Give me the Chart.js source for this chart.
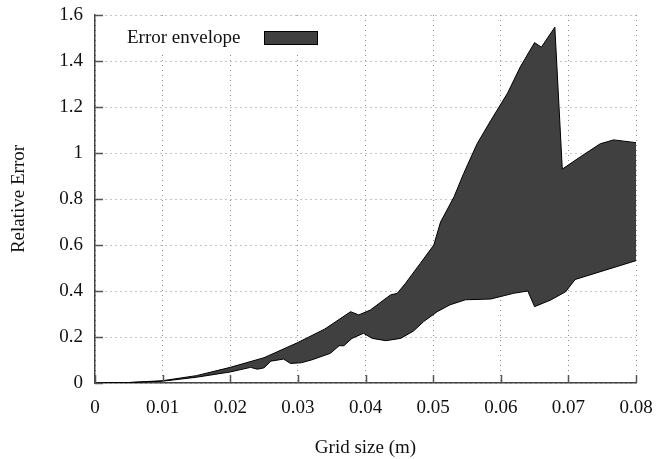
<!DOCTYPE html>
<html lang="en">
<head>
    <meta charset="UTF-8">
    <title>Relative error envelope vs grid size</title>
    <script src="https://cdn.jsdelivr.net/npm/chart.js"></script>
    <style>
        body { margin: 0; background: #fff; }
        #wrap { width: 658px; height: 459px; }
    </style>
</head>
<body>
    <div id="wrap"><canvas id="envChart" width="658" height="459"></canvas></div>

    <script>
        // Envelope edges (grid size in m, relative error)
        const lowerX = [0, 0.005, 0.01, 0.015, 0.02, 0.023, 0.024, 0.025, 0.026, 0.0279, 0.0289, 0.0305, 0.032, 0.0348, 0.0361, 0.0368, 0.038, 0.0397, 0.041, 0.043, 0.0452, 0.0471, 0.0486, 0.0506, 0.0525, 0.0548, 0.0585, 0.0619, 0.064, 0.065, 0.0674, 0.0696, 0.071, 0.08];
        const lowerY = [0, 0.002, 0.008, 0.025, 0.048, 0.068, 0.06, 0.066, 0.095, 0.104, 0.085, 0.088, 0.10, 0.129, 0.162, 0.162, 0.194, 0.216, 0.194, 0.184, 0.194, 0.226, 0.267, 0.31, 0.34, 0.362, 0.365, 0.39, 0.40, 0.332, 0.361, 0.397, 0.45, 0.532];

        const upperX = [0, 0.005, 0.01, 0.015, 0.02, 0.025, 0.03, 0.034, 0.0378, 0.039, 0.0407, 0.0437, 0.0447, 0.0459, 0.0481, 0.0501, 0.0511, 0.0531, 0.0545, 0.0565, 0.0585, 0.061, 0.0629, 0.065, 0.066, 0.068, 0.0691, 0.0718, 0.0747, 0.0767, 0.08];
        const upperY = [0, 0.002, 0.01, 0.032, 0.068, 0.11, 0.176, 0.235, 0.31, 0.296, 0.317, 0.383, 0.39, 0.433, 0.52, 0.60, 0.70, 0.81, 0.91, 1.04, 1.14, 1.26, 1.375, 1.48, 1.46, 1.547, 0.93, 0.984, 1.04, 1.057, 1.045];

        const xTicks = [0, 0.01, 0.02, 0.03, 0.04, 0.05, 0.06, 0.07, 0.08];
        const yTicks = [0, 0.2, 0.4, 0.6, 0.8, 1, 1.2, 1.4, 1.6];

        const fillColor = '#404040';
        const serif = "'Liberation Serif', 'Times New Roman', serif";

        function toPoints(xs, ys) {
            return xs.map((x, i) => ({ x: x, y: ys[i] }));
        }

        // gnuplot-style inward tick marks
        const inwardTicks = {
            id: 'inwardTicks',
            afterDraw(chart) {
                const { ctx, chartArea, scales } = chart;
                ctx.save();
                ctx.strokeStyle = '#555';
                ctx.lineWidth = 1.5;
                ctx.beginPath();
                xTicks.forEach(v => {
                    const px = Math.round(scales.x.getPixelForValue(v)) + 0.5;
                    ctx.moveTo(px, chartArea.bottom);
                    ctx.lineTo(px, chartArea.bottom - 8);
                });
                yTicks.forEach(v => {
                    const py = Math.round(scales.y.getPixelForValue(v)) + 0.5;
                    ctx.moveTo(chartArea.left, py);
                    ctx.lineTo(chartArea.left + 8, py);
                });
                ctx.stroke();
                ctx.restore();
            }
        };

        // legend inside the plot: label text, then the sample box
        const boxLegend = {
            id: 'boxLegend',
            beforeDatasetsDraw(chart) {
                const ctx = chart.ctx;
                ctx.save();
                ctx.fillStyle = '#fff';
                ctx.fillRect(118, 18, 210, 34);
                ctx.restore();
            },
            afterDatasetsDraw(chart) {
                const ctx = chart.ctx;
                const ds = chart.data.datasets[1];
                ctx.save();
                ctx.font = '19px ' + serif;
                ctx.fillStyle = '#111';
                ctx.textBaseline = 'middle';
                ctx.textAlign = 'left';
                ctx.fillText(ds.label, 127, 38);
                ctx.fillStyle = ds.backgroundColor;
                ctx.fillRect(264, 31, 53, 13);
                ctx.strokeStyle = '#000';
                ctx.lineWidth = 1;
                ctx.strokeRect(264.5, 31.5, 53, 13);
                ctx.restore();
            }
        };

        new Chart(document.getElementById('envChart'), {
            type: 'line',
            data: {
                datasets: [
                    {
                        label: 'lower',
                        data: toPoints(lowerX, lowerY),
                        borderColor: '#000',
                        borderWidth: 1,
                        pointRadius: 0,
                        tension: 0,
                        fill: false
                    },
                    {
                        label: 'Error envelope',
                        data: toPoints(upperX, upperY),
                        borderColor: '#000',
                        borderWidth: 1,
                        backgroundColor: fillColor,
                        pointRadius: 0,
                        tension: 0,
                        fill: '-1'
                    }
                ]
            },
            options: {
                responsive: false,
                animation: false,
                layout: { padding: { left: 8, right: 22, top: 15, bottom: 0 } },
                plugins: {
                    legend: { display: false },
                    tooltip: { enabled: false }
                },
                scales: {
                    x: {
                        type: 'linear',
                        min: 0,
                        max: 0.08,
                        afterBuildTicks: s => { s.ticks = xTicks.map(v => ({ value: v })); },
                        afterFit: s => { s.height = 76; s.paddingLeft = 0; s.paddingRight = 0; },
                        grid: { color: '#8a8a8a', lineWidth: 1, drawTicks: false },
                        border: { display: true, color: '#444', width: 1.5, dash: [1, 4] },
                        ticks: {
                            padding: 14,
                            maxRotation: 0,
                            color: '#111',
                            font: { family: serif, size: 19 },
                            callback: v => String(v)
                        },
                        title: {
                            display: true,
                            text: 'Grid size (m)',
                            color: '#111',
                            padding: 0,
                            font: { family: serif, size: 19 }
                        }
                    },
                    y: {
                        min: 0,
                        max: 1.6,
                        afterBuildTicks: s => { s.ticks = yTicks.map(v => ({ value: v })); },
                        afterFit: s => { s.width = 87; s.paddingTop = 0; s.paddingBottom = 0; },
                        grid: { color: '#8a8a8a', lineWidth: 1, drawTicks: false },
                        border: { display: true, color: '#444', width: 1.5, dash: [1, 4] },
                        ticks: {
                            padding: 12,
                            color: '#111',
                            font: { family: serif, size: 19 },
                            callback: v => String(v)
                        },
                        title: {
                            display: true,
                            text: 'Relative Error',
                            color: '#111',
                            padding: 0,
                            font: { family: serif, size: 19 }
                        }
                    }
                }
            },
            plugins: [boxLegend, inwardTicks]
        });
    </script>
</body>
</html>
